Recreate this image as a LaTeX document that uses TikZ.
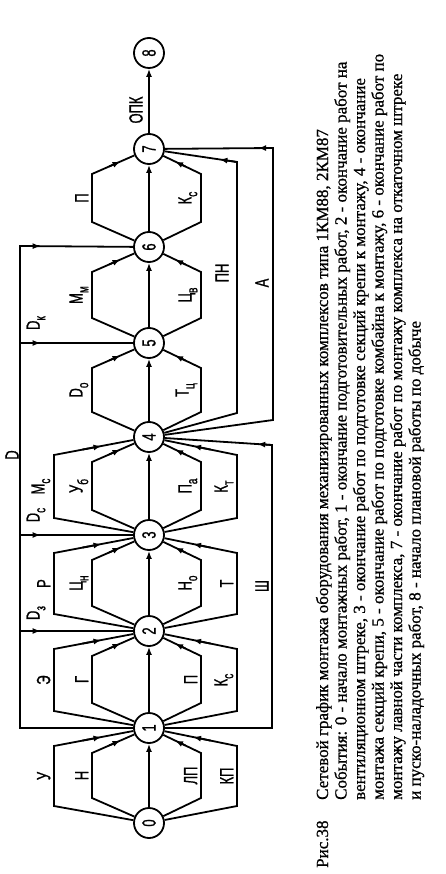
\documentclass[tikz,border=0pt]{standalone}
\usepackage{fontspec}
\setmainfont[FakeBold=0.8]{Liberation Serif}
\newfontfamily\lblfont[FakeBold=1.2]{Liberation Sans}
\usetikzlibrary{arrows.meta,calc}
\newcommand\lblf{\lblfont\fontsize{19}{19}\selectfont}
\newcommand\lb[1]{\scalebox{0.68}[1]{#1}}
\newcommand\sbs[2]{#1\raisebox{-0.3em}{\fontsize{15}{15}\selectfont #2}}
\newcommand\capfont{\fontsize{17}{18.5}\selectfont}
\tikzset{
  ev/.style={circle, draw, line width=1.8pt, minimum size=30pt, inner sep=0pt, rotate=90, font=\lblf},
  wk/.style={line width=1.8pt, line join=miter},
  tipar/.style={line width=1.8pt, -{Latex[length=8pt,width=6pt]}},
  lbl/.style={rotate=90, anchor=south, inner sep=1.5pt, font=\lblf},
  lblc/.style={rotate=90, anchor=center, inner sep=0pt, font=\lblf},
}
\newcommand\hexedge[6]{%
  \draw[wk] (#1) -- (#3,#4) coordinate (c1) -- (#3,#5) coordinate (c2) -- (#2);
  \draw[tipar] ($(c2)!0.3!(#2)$) -- ($(c2)!0.5!(#2)$);
  \node[lbl] at (#3-2, {(#4+#5)/2}) {\lb{#6}};
}
\begin{document}
\begin{tikzpicture}[x=1pt,y=-1pt]
\fill[white] (0,0) rectangle (446,874);
\useasboundingbox (0,0) rectangle (446,874);
% events
\node[ev] (n0) at (149,823) {\lb{0}};
\node[ev] (n1) at (149,728) {\lb{1}};
\node[ev] (n2) at (149,631) {\lb{2}};
\node[ev] (n3) at (149,535) {\lb{3}};
\node[ev] (n4) at (149,437) {\lb{4}};
\node[ev] (n5) at (149,343) {\lb{5}};
\node[ev] (n6) at (149,247) {\lb{6}};
\node[ev] (n7) at (149,149) {\lb{7}};
\node[ev] (n8) at (149,53) {\lb{8}};
% straight arrows
\draw[tipar] (n0) -- (n1);
\draw[tipar] (n1) -- (n2);
\draw[tipar] (n2) -- (n3);
\draw[tipar] (n3) -- (n4);
\draw[tipar] (n4) -- (n5);
\draw[tipar] (n5) -- (n6);
\draw[tipar] (n6) -- (n7);
\draw[tipar] (n7) -- (n8);
\node[lblc] at (136,110) {\lb{ОПК}};
% 0 -> 1
\hexedge{n0}{n1}{54}{806}{746}{У}
\hexedge{n0}{n1}{92}{798}{753}{Н}
\hexedge{n0}{n1}{201}{798}{753}{ЛП}
\hexedge{n0}{n1}{237}{806}{746}{КП}
% 1 -> 2
\hexedge{n1}{n2}{54}{711}{649}{Э}
\hexedge{n1}{n2}{92}{703}{656}{Г}
\hexedge{n1}{n2}{201}{703}{656}{П}
\hexedge{n1}{n2}{237}{711}{649}{\sbs{К}{с}}
% 2 -> 3
\hexedge{n2}{n3}{54}{614}{553}{Р}
\hexedge{n2}{n3}{92}{606}{560}{\sbs{Ц}{н}}
\hexedge{n2}{n3}{201}{606}{560}{\sbs{Н}{о}}
\hexedge{n2}{n3}{237}{614}{553}{Т}
% 3 -> 4
\hexedge{n3}{n4}{54}{518}{455}{\sbs{М}{с}}
\hexedge{n3}{n4}{92}{510}{462}{\sbs{У}{б}}
\hexedge{n3}{n4}{201}{510}{462}{\sbs{П}{а}}
\hexedge{n3}{n4}{237}{518}{455}{\sbs{К}{т}}
% 4 -> 5
\hexedge{n4}{n5}{92}{412}{368}{\sbs{D}{о}}
\hexedge{n4}{n5}{201}{412}{368}{\sbs{Т}{ц}}
% 5 -> 6
\hexedge{n5}{n6}{92}{318}{272}{\sbs{М}{м}}
\hexedge{n5}{n6}{201}{318}{272}{\sbs{Ц}{в}}
% 6 -> 7
\hexedge{n6}{n7}{92}{222}{174}{П}
\hexedge{n6}{n7}{201}{222}{174}{\sbs{К}{с}}
% D line
\coordinate (d1) at (20,728);
\coordinate (d2) at (20,631);
\coordinate (d3) at (20,535);
\coordinate (d5) at (20,343);
\coordinate (d6) at (20,246);
\draw[wk] (n1) -- (d1) -- (d6) -- (n6);
\draw[tipar] (d6) -- ($(d6)!0.16!(n6)$);
\draw[wk] (d2) -- (n2);
\draw[tipar] (d2) -- ($(d2)!0.16!(n2)$);
\draw[wk] (d3) -- (n3);
\draw[tipar] (d3) -- ($(d3)!0.16!(n3)$);
\draw[wk] (d5) -- (n5);
\draw[tipar] (d5) -- ($(d5)!0.16!(n5)$);
\node[lblc] at (12,455) {\lb{D}};
\node[lblc] at (36,613) {\lb{\sbs{D}{з}}};
\node[lblc] at (36,515) {\lb{\sbs{D}{с}}};
\node[lblc] at (36,323) {\lb{\sbs{D}{к}}};
% Sh line
\coordinate (s1) at (272,728);
\coordinate (s4) at (272,445);
\draw[wk] (n1) -- (s1) -- (s4) -- (n4);
\draw[tipar] (s4) -- ($(s4)!0.12!(n4)$);
\node[lblc] at (262,586) {\lb{Ш}};
% A line
\coordinate (a4) at (273,420);
\coordinate (a7) at (273,148);
\draw[wk] (n4) -- (a4) -- (a7) -- (n7);
\draw[tipar] (a7) -- ($(a7)!0.12!(n7)$);
\node[lblc] at (262,283) {\lb{А}};
% PN line
\coordinate (p4) at (237,413);
\coordinate (p7) at (237,162);
\draw[wk] (n4) -- (p4) -- (p7) -- (n7);
\draw[tipar] (p7) -- ($(p7)!0.2!(n7)$);
\node[lblc] at (222,273) {\lb{ПН}};
% caption
\node[rotate=90, anchor=base west, inner sep=0pt] at (328,868) {\capfont
\begin{tabular}[t]{@{}p{68pt}@{}l@{}}
Рис.38 & Сетевой график монтажа оборудования механизированных комплексов типа 1КМ88, 2КМ87\\
& События: 0 - начало монтажных работ, 1 - окончание подготовительных работ, 2 - окончание работ на\\
& вентиляционном штреке, 3 - окончание работ по подготовке секций крепи к монтажу, 4 - окончание\\
& монтажа секций крепи, 5 - окончание работ по подготовке комбайна к монтажу, 6 - окончание работ по\\
& монтажу лавной части комплекса, 7 - окончание работ по монтажу комплекса на откаточном штреке\\
& и пуско-наладочных работ, 8 - начало плановой работы по добыче
\end{tabular}};
\end{tikzpicture}
\end{document}
